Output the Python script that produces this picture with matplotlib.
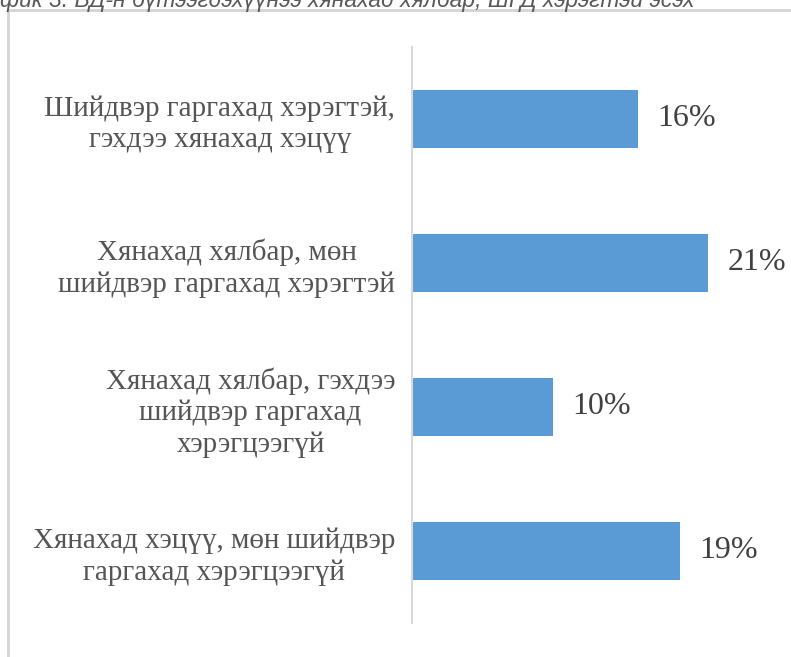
import matplotlib.pyplot as plt

categories = [
    "Шийдвэр гаргахад хэрэгтэй,\nгэхдээ хянахад хэцүү",
    "Хянахад хялбар, мөн\nшийдвэр гаргахад хэрэгтэй",
    "Хянахад хялбар, гэхдээ\nшийдвэр гаргахад\nхэрэгцээгүй",
    "Хянахад хэцүү, мөн шийдвэр\nгаргахад хэрэгцээгүй",
]
values = [16, 21, 10, 19]
value_labels = ["16%", "21%", "10%", "19%"]
caption = "фик 3. ВД-н бүтээгдэхүүнээ хянахад хялбар, ШГД хэрэгтэй эсэх"

W, H = 791, 657
fig = plt.figure(figsize=(W / 100, H / 100), dpi=100)

# outer frame (only left and top edges are visible in the crop)
fig.add_artist(plt.Line2D([8 / W, 8 / W], [0, 1 - 10 / H], color="#d4d4d4", lw=2,
                          transform=fig.transFigure))
fig.add_artist(plt.Line2D([8 / W, 1], [1 - 10 / H, 1 - 10 / H], color="#d4d4d4", lw=2,
                          transform=fig.transFigure))

# caption, cut off by the top edge as in the source
fig.text(0.0, 1 - 7 / H, caption, fontsize=16.5, style="italic", color="#595959",
         family="Liberation Sans", ha="left", va="baseline")

ax = fig.add_axes([412 / W, (H - 623) / H, 352.5 / W, 576 / H])
ypos = list(range(len(categories)))
ax.barh(ypos, values, height=0.4, color="#5b9bd5")
ax.set_xlim(0, 25)
ax.set_ylim(3.5, -0.5)

for y, v, lab in zip(ypos, values, value_labels):
    ax.text(v + 1.4, y, lab, va="center", ha="left", fontsize=23,
            family="Liberation Serif", color="#404040")

ax.set_yticks(ypos)
ax.set_yticklabels(categories, fontsize=21, family="Liberation Serif",
                   color="#555555", linespacing=1.25, multialignment="center")
ax.tick_params(axis="y", length=0, pad=12)
ax.set_xticks([])
for s in ["top", "right", "bottom"]:
    ax.spines[s].set_visible(False)
ax.spines["left"].set_color("#d9d9d9")
ax.spines["left"].set_linewidth(1.5)

fig.savefig("out.png", dpi=100)
